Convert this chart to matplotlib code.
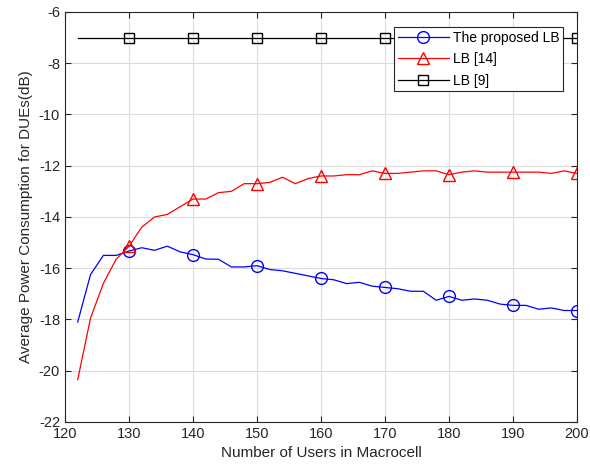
import matplotlib
matplotlib.use("Agg")
import matplotlib.pyplot as plt
import numpy as np

plt.rcParams['font.family'] = ['Liberation Sans', 'DejaVu Sans']
plt.rcParams['axes.unicode_minus'] = False

users = list(range(122, 201, 2))
proposed = [-18.1, -16.25, -15.5, -15.5, -15.33, -15.2, -15.3, -15.14, -15.36, -15.47,
            -15.64, -15.65, -15.95, -15.95, -15.9, -16.05, -16.1, -16.2, -16.3, -16.4,
            -16.45, -16.6, -16.55, -16.7, -16.75, -16.8, -16.9, -16.9, -17.25, -17.1,
            -17.25, -17.2, -17.25, -17.4, -17.45, -17.45, -17.6, -17.55, -17.65, -17.65]
lb14 = [-20.35, -17.95, -16.6, -15.65, -15.15, -14.4, -14.0, -13.9, -13.6, -13.3,
        -13.3, -13.05, -13.0, -12.7, -12.7, -12.65, -12.45, -12.7, -12.5, -12.4,
        -12.4, -12.35, -12.35, -12.2, -12.3, -12.3, -12.25, -12.2, -12.2, -12.35,
        -12.25, -12.2, -12.25, -12.25, -12.25, -12.25, -12.25, -12.3, -12.2, -12.3]
lb9 = [-7.0] * len(users)
labels = ['The proposed LB', 'LB [14]', 'LB [9]']

fig = plt.figure(figsize=(5.9, 4.72), dpi=100)
ax = fig.add_axes([0.110, 0.106, 0.868, 0.8686])

marker_idx = [i for i, u in enumerate(users) if u % 10 == 0]
ax.plot(users, proposed, color='#0000ff', lw=0.9, marker='o', markersize=8.5,
        markerfacecolor='none', markevery=marker_idx, label=labels[0])
ax.plot(users, lb14, color='#ff0000', lw=0.9, marker='^', markersize=9,
        markerfacecolor='none', markevery=marker_idx, label=labels[1])
ax.plot(users, lb9, color='black', lw=0.9, marker='s', markersize=6.5,
        markerfacecolor='none', markevery=marker_idx, label=labels[2])

ax.set_xlim(120, 200)
ax.set_ylim(-22, -6)
ax.set_xticks(np.arange(120, 201, 10))
ax.set_yticks(np.arange(-22, -5, 2))
ax.grid(True, color='#dcdcdc', lw=0.8)
ax.set_axisbelow(True)
ax.tick_params(direction='in', length=4, labelsize=10.5, top=True, right=True,
               labeltop=False, labelright=False, color='#262626', labelcolor='#262626')
for s in ax.spines.values():
    s.set_color('#262626')
    s.set_linewidth(0.8)
ax.set_xlabel('Number of Users in Macrocell', fontsize=11, color='#262626')
ax.set_ylabel('Average Power Consumption for DUEs(dB)', fontsize=11, color='#262626')

leg = ax.legend(loc='upper right', bbox_to_anchor=(0.973, 0.963), borderaxespad=0,
                fontsize=10, fancybox=False, edgecolor='#262626', framealpha=1,
                handlelength=3.7, borderpad=0.25, labelspacing=0.55, handletextpad=0.3)
leg.get_frame().set_linewidth(0.8)

fig.savefig('out.png', dpi=100)
